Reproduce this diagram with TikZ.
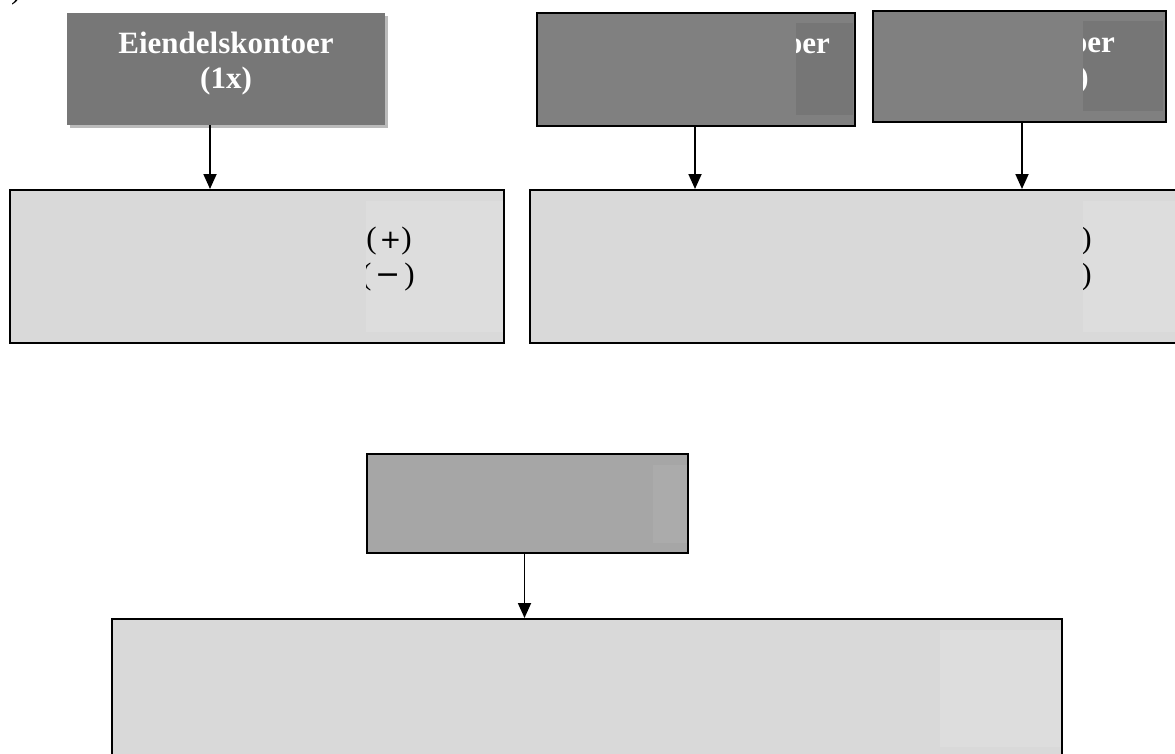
\documentclass[tikz,border=0pt]{standalone}
\usepackage{fontspec}
\setmainfont{Liberation Serif}
\newfontfamily\signfont{DejaVu Sans}
\usetikzlibrary{arrows.meta,shadows}
\definecolor{darkA}{HTML}{777777}
\definecolor{darkB}{HTML}{808080}
\definecolor{darkBov}{HTML}{767676}
\definecolor{midF}{HTML}{A6A6A6}
\definecolor{midFov}{HTML}{ABABAB}
\definecolor{lightD}{HTML}{D9D9D9}
\definecolor{lightDov}{HTML}{DDDDDD}
\definecolor{shadowA}{HTML}{BBBBBB}
\newcommand{\plussign}{{\signfont\fontsize{26}{30}\selectfont +}}
\newcommand{\minussign}{{\signfont\fontsize{30}{30}\selectfont −}}
\begin{document}
\begin{tikzpicture}[x=1pt,y=-1pt,
  boxbase/.style={rectangle,inner sep=0pt,draw=black,line width=2pt},
  hdrbox/.style={rectangle,inner sep=0pt,fill=darkA,
    drop shadow={shadow xshift=3pt,shadow yshift=-3pt,fill=shadowA,opacity=1}},
  darkbox/.style={boxbase,fill=darkB},
  midbox/.style={boxbase,fill=midF},
  lightbox/.style={boxbase,fill=lightD},
  toptext/.style={inner sep=0pt,text=white,font=\fontsize{31}{35}\selectfont\bfseries},
  lowtext/.style={inner sep=0pt,text=black,font=\fontsize{31}{36}\selectfont},
  conn/.style={line width=1.8pt,-{Triangle[width=13pt,length=15pt]}}]
\useasboundingbox (0,0) rectangle (1175,753);
% fragment at top-left corner
\node[lowtext,anchor=base west] (frag) at (11,-2) {)};
% boxes
\node[hdrbox,minimum width=318pt,minimum height=112pt] (A) at (226,69) {};
\node[darkbox,minimum width=318pt,minimum height=113pt] (B) at (696,69.5) {};
\node[darkbox,minimum width=293pt,minimum height=111pt] (C) at (1019.5,66.5) {};
\node[lightbox,minimum width=494pt,minimum height=153pt] (D) at (257,266.5) {};
\node[lightbox,minimum width=650pt,minimum height=153pt] (E) at (855,266.5) {};
\node[midbox,minimum width=321pt,minimum height=99pt] (F) at (527.5,503.5) {};
\node[lightbox,minimum width=950pt,minimum height=145pt] (G) at (587,691.5) {};
% texts of A
\node[toptext,anchor=base] (a1) at (226,53) {Eiendelskontoer};
\node[toptext,anchor=base] (a2) at (226,88) {(1x)};
% overlay of B
\begin{scope}
\clip (796,23) rectangle (853,115);
\fill[darkBov] (796,23) rectangle (853,115);
\node[toptext,anchor=base east] (b1) at (830,53) {Gjeldskontoer};
\end{scope}
% overlay of C
\begin{scope}
\clip (1083,21) rectangle (1163,111);
\fill[darkBov] (1083,21) rectangle (1163,111);
\node[toptext,anchor=base east] (c1) at (1115,52) {Kapitalkontoer};
\node[toptext,anchor=base east] (c2) at (1089,87) {(1x)};
\end{scope}
% overlay of D
\begin{scope}
\clip (366,201) rectangle (503,332);
\fill[lightDov] (366,201) rectangle (503,332);
\node[lowtext,anchor=base east] (d1) at (412,248) {Debet (\hspace{3pt}\plussign)};
\node[lowtext,anchor=base east] (d2) at (415,284) {Kredit (\hspace{4pt}\minussign\hspace{4pt})};
\end{scope}
% overlay of E
\begin{scope}
\clip (1083,201) rectangle (1175,332);
\fill[lightDov] (1083,201) rectangle (1175,332);
\node[lowtext,anchor=base east] (e1) at (1092,248) {Debet (\minussign)};
\node[lowtext,anchor=base east] (e2) at (1092,284) {Kredit (\plussign)};
\end{scope}
% overlay of F
\fill[midFov] (653,465) rectangle (687,543);
% overlay of G
\fill[lightDov] (940,630) rectangle (1061,747);
% connectors
\draw[conn] ([xshift=-16pt]A.south) -- ([xshift=-16pt]A.south |- D.north);
\draw[conn] ([xshift=-1pt]B.south) -- ([xshift=-1pt]B.south |- E.north);
\draw[conn] ([xshift=2.5pt]C.south) -- ([xshift=2.5pt]C.south |- E.north);
\draw[conn] ([xshift=-3pt]F.south) -- ([xshift=-3pt]F.south |- G.north);
\end{tikzpicture}
\end{document}
